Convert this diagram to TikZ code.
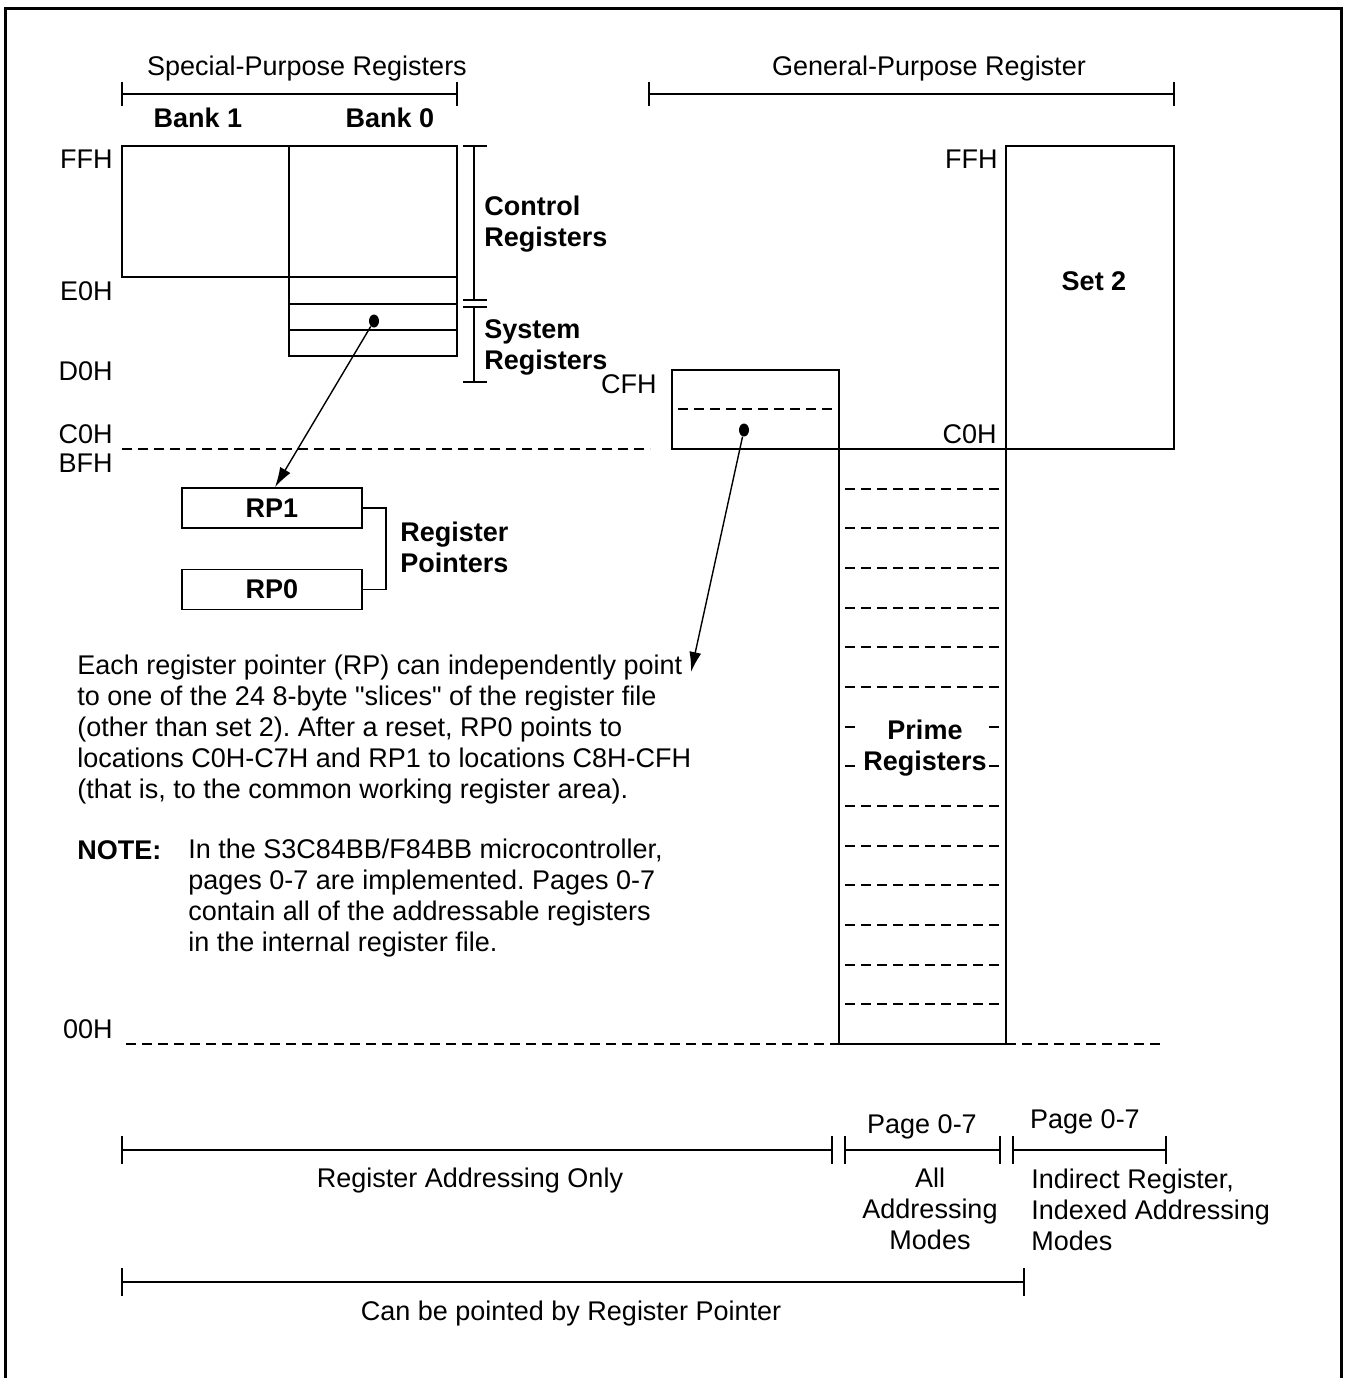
\documentclass[tikz,border=0pt]{standalone}
\usepackage{fontspec}
\setmainfont{Liberation Sans}
\usepackage{tikz}
\usetikzlibrary{arrows.meta}
\usetikzlibrary{shapes.geometric}
\usetikzlibrary{positioning}
\tikzset{>={Latex[length=10pt,width=6pt]}}
\frenchspacing
\newcommand\spanbar[4]{%
    \draw[line width=.9pt] (#2,#1) -- (#3,#1)
        (#2,#1-#4) -- (#2,#1+#4) (#3,#1-#4) -- (#3,#1+#4);
}
\tikzstyle{lbl} = [font=\fontsize{13.5}{15.5}\selectfont, inner sep=0pt]
\tikzstyle{blbl} = [lbl, font=\fontsize{13.5}{15.5}\selectfont\bfseries]
\tikzstyle{regline} = [line width=.8pt]
\tikzstyle{slice} = [line width=.9pt, dash pattern=on 5pt off 3pt]
\tikzstyle{ptrbox} = [blbl, draw, line width=.8pt, minimum width=90pt, minimum height=20pt]
\tikzstyle{pdot} = [ellipse, fill=black, inner sep=0pt, minimum width=5pt, minimum height=6.5pt]
\tikzstyle{ptr} = [->, line width=.7pt]

\begin{document}
\begin{tikzpicture}[x=.5pt, y=-.5pt]
    \useasboundingbox (0,0) rectangle (1346,1378);
    \draw[line width=1.5pt] (5.5,1378) -- (5.5,8) -- (1341.5,8) -- (1341.5,1378);

    % headings
    \node[lbl, anchor=base] (spr) at (307,75) {Special-Purpose Registers};
    \node[lbl, anchor=base] (gpr) at (929,75) {General-Purpose Register};
    \spanbar{94}{122}{457}{12}
    \spanbar{94}{649}{1174}{12}
    \node[blbl, anchor=base] (bk1) at (198,127) {Bank 1};
    \node[blbl, anchor=base] (bk0) at (390,127) {Bank 0};

    % special-purpose banks
    \draw[regline] (122,146) rectangle (289,277);
    \draw[regline] (289,146) rectangle (457,356);
    \draw[regline] (289,277) -- (457,277) (289,304) -- (457,304) (289,330) -- (457,330);
    \draw[regline] (474,146) -- (474,300) (463,146) -- (487,146) (463,300) -- (487,300);
    \draw[regline] (474,307) -- (474,382) (463,307) -- (487,307) (463,382) -- (487,382);
    \node[blbl, anchor=north west, align=left] (ctrl) at (484,196) {Control\\Registers};
    \node[blbl, anchor=north west, align=left] (sys) at (484,319.5) {System\\Registers};

    % address labels
    \node[lbl, anchor=base east] (ffha) at (113,168) {FFH};
    \node[lbl, anchor=base east] (e0h) at (113,300) {E0H};
    \node[lbl, anchor=base east] (d0h) at (113,380) {D0H};
    \node[lbl, anchor=base east] (c0ha) at (113,443) {C0H};
    \node[lbl, anchor=base east] (bfh) at (113,472) {BFH};
    \node[lbl, anchor=base east] (ooh) at (113,1038) {00H};
    \node[lbl, anchor=base east] (cfh) at (657,393) {CFH};
    \node[lbl, anchor=base east] (ffhb) at (998,168) {FFH};
    \node[lbl, anchor=base east] (c0hb) at (997,443) {C0H};

    \draw[slice] (122,449) -- (650,449);
    \draw[slice] (126,1044) -- (1160,1044);

    % general-purpose file
    \draw[regline] (672,370) rectangle (839,449);
    \draw[slice] (678,409) -- (839,409);
    \draw[regline] (1006,146) rectangle (1174,449);
    \node[blbl, anchor=base] (set2) at (1094,290) {Set 2};
    \draw[regline] (839,449) -- (839,1044) -- (1006,1044) -- (1006,449) -- cycle;
    \foreach \k in {1,...,14}
        \draw[slice] (845,{449+39.67*\k}) -- (1006,{449+39.67*\k});
    \node[blbl, anchor=north, align=center, fill=white, inner xsep=1pt] (prime) at (925,720) {Prime\\Registers};

    % register pointers
    \node[ptrbox] (rp1) at (272,508) {RP1};
    \node[ptrbox, below=20pt of rp1] (rp0) {RP0};
    \draw[regline] (rp1.east) -- ++(23,0) |- (rp0.east);
    \node[blbl, anchor=north west, align=left] (rps) at (400,521.5) {Register\\Pointers};

    \node[pdot] (dot1) at (374,321) {};
    \node[pdot] (dot2) at (744,430) {};
    \coordinate (tip2) at (691,672);
    \draw[ptr] (dot1) -- ([xshift=1.5pt]rp1.north);
    \draw[ptr] (dot2) -- (tip2);

    % text
    \node[lbl, anchor=north west, align=left] (desc) at (77,655) {Each register pointer (RP) can independently point\\to one of the 24 8-byte \textquotedbl slices\textquotedbl{} of the register file\\(other than set 2). After a reset, RP0 points to\\locations C0H-C7H and RP1 to locations C8H-CFH\\(that is, to the common working register area).};
    \node[blbl, anchor=base west] (note) at (77,859) {NOTE:};
    \node[lbl, anchor=north west, align=left] (notetxt) at (188,839) {In the S3C84BB/F84BB microcontroller,\\pages 0-7 are implemented. Pages 0-7\\contain all of the addressable registers\\in the internal register file.};

    % addressing ranges
    \spanbar{1150}{122}{832}{14}
    \spanbar{1150}{845}{1000}{14}
    \spanbar{1150}{1013}{1166}{14}
    \spanbar{1282}{122}{1024}{14}
    \node[lbl, anchor=base] (pga) at (922,1133) {Page 0-7};
    \node[lbl, anchor=base] (pgb) at (1085,1128) {Page 0-7};
    \node[lbl, anchor=base] (rao) at (470,1187) {Register Addressing Only};
    \node[lbl, anchor=north, align=center] (aam) at (930,1168) {All\\Addressing\\Modes};
    \node[lbl, anchor=north west, align=left] (iram) at (1031,1169) {Indirect Register,\\Indexed Addressing\\Modes};
    \node[lbl, anchor=base] (cbp) at (571,1320) {Can be pointed by Register Pointer};
\end{tikzpicture}
\end{document}
